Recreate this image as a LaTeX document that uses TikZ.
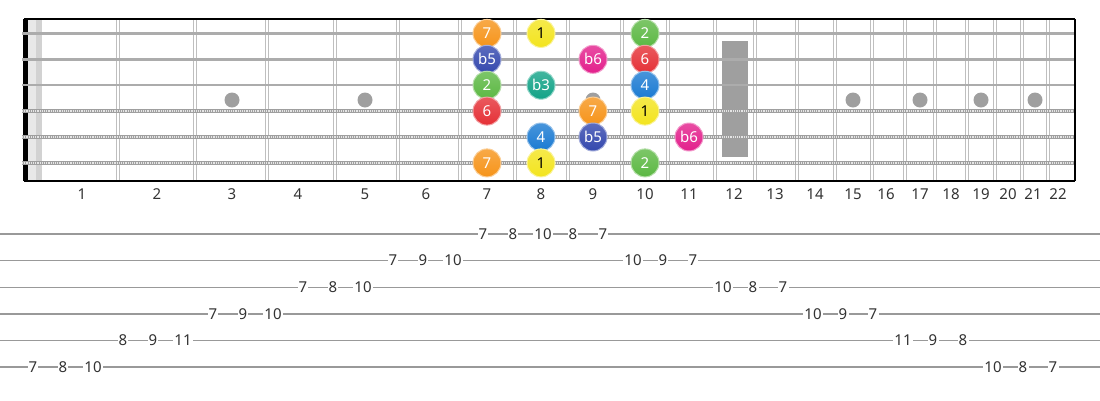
\documentclass[tikz,border=0pt]{standalone}
\usepackage{fontspec}
\setmainfont{Noto Sans}
\definecolor{cone}{HTML}{F3E41E}
\definecolor{ctwo}{HTML}{5CB843}
\definecolor{cthree}{HTML}{12A387}
\definecolor{cfour}{HTML}{1A7AD2}
\definecolor{cfive}{HTML}{3448AE}
\definecolor{csix}{HTML}{E3208C}
\definecolor{cmaj}{HTML}{E53036}
\definecolor{cseven}{HTML}{F6941A}
\tikzset{
  ball/.style={circle, minimum size=28pt, inner sep=0pt, top color=#1!80!white,
    bottom color=#1, draw=#1!45!white, line width=1pt, font=\fontsize{15}{15}\selectfont},
  fretline/.style={draw=gray!50, line width=1.5pt},
  plainstr/.style={draw=gray!65, line width=2.5pt},
  woundstr/.style={draw=gray!75, line width=4.4pt},
  woundgap/.style={draw=white!80!gray, line width=2.4pt, dash pattern=on 1.1pt off 1.1pt},
  inlay/.style={fill=gray!75},
  fretnum/.style={text=black!80, inner sep=0pt},
  tabline/.style={draw=gray!80, line width=1.4pt},
  tabnum/.style={text=black!80, fill=white, inner sep=1.2pt}
}
\begin{document}
\begin{tikzpicture}[x=1pt, y=-1pt, line join=round, font=\fontsize{15}{15}\selectfont]
	\useasboundingbox (0,0) rectangle (1100,400);
	\def\top{19} \def\bot{181} % Bord du manche
	% frettes doubles
	\foreach \x in {118,195,267,335,398,460,515,568,622,668,715,755,797,835,872,905,935,967,995,1022,1048}
	  \draw[fretline] (\x-1.7,\top)--(\x-1.7,\bot) (\x+1.7,\top)--(\x+1.7,\bot);
	% reperes
	\foreach \x in {232,365,487,593,853,920,981,1035}
	  \fill[inlay] (\x,100) circle (7.5);
	\fill[inlay] (722,41) rectangle (748,157);
	% sillet
	\fill (23,\top) rectangle (28,\bot);
	\fill[gray!18] (28,\top) rectangle (42,\bot);
	\fill[gray!35] (36,\top) rectangle (42,\bot);
	% cordes
	\foreach \s in {1,2,3}
	  \draw[plainstr] (22,{7.5+25.9*\s})--(1075,{7.5+25.9*\s});
	\foreach \s in {4,5,6}{
	  \draw[woundstr] (22,{7.5+25.9*\s})--(1075,{7.5+25.9*\s});
	  \draw[woundgap] (22,{7.5+25.9*\s})--(1075,{7.5+25.9*\s});
	}
	\draw[line width=1.5pt] (24,\top)--(1075,\top);
	\draw[line width=2pt] (24,\bot)--(1075,\bot) (1075,\top)--(1075,\bot);
	% numeros de case
	\foreach \n/\x in {1/82,2/157,3/232,4/298,5/365,6/426,7/487,8/541,9/593,10/645,11/689,
	  12/734,13/775,14/815,15/853,16/886,17/920,18/951,19/981,20/1008,21/1033,22/1058}
	  \node[fretnum] (fn\n) at (\x,194) {\n};
	% notes
	\foreach \s/\f/\x/\c/\t/\tc in {1/7/487/cseven/7/white, 1/8/541/cone/1/black, 1/10/645/ctwo/2/white,
	  2/7/487/cfive/b5/white, 2/9/593/csix/b6/white, 2/10/645/cmaj/6/white,
	  3/7/487/ctwo/2/white, 3/8/541/cthree/b3/white, 3/10/645/cfour/4/white,
	  4/7/487/cmaj/6/white, 4/9/593/cseven/7/white, 4/10/645/cone/1/black,
	  5/8/541/cfour/4/white, 5/9/593/cfive/b5/white, 5/11/689/csix/b6/white,
	  6/7/487/cseven/7/white, 6/8/541/cone/1/black, 6/10/645/ctwo/2/white}
	  \node[ball=\c, text=\tc] (s\s f\f) at (\x,{7.5+25.9*\s}) {\t};
	% tablature
	\foreach \s in {1,...,6}
	  \draw[tabline] (0,{207.4+26.6*\s})--(1100,{207.4+26.6*\s});
	\foreach \f/\s [count=\k from 0] in {7/6,8/6,10/6,8/5,9/5,11/5,7/4,9/4,10/4,7/3,8/3,10/3,
	  7/2,9/2,10/2,7/1,8/1,10/1,8/1,7/1,10/2,9/2,7/2,10/3,8/3,7/3,10/4,9/4,7/4,
	  11/5,9/5,8/5,10/6,8/6,7/6}
	  \node[tabnum] (t\k) at ({33+30*\k},{207.4+26.6*\s}) {\f};
\end{tikzpicture}
\end{document}
